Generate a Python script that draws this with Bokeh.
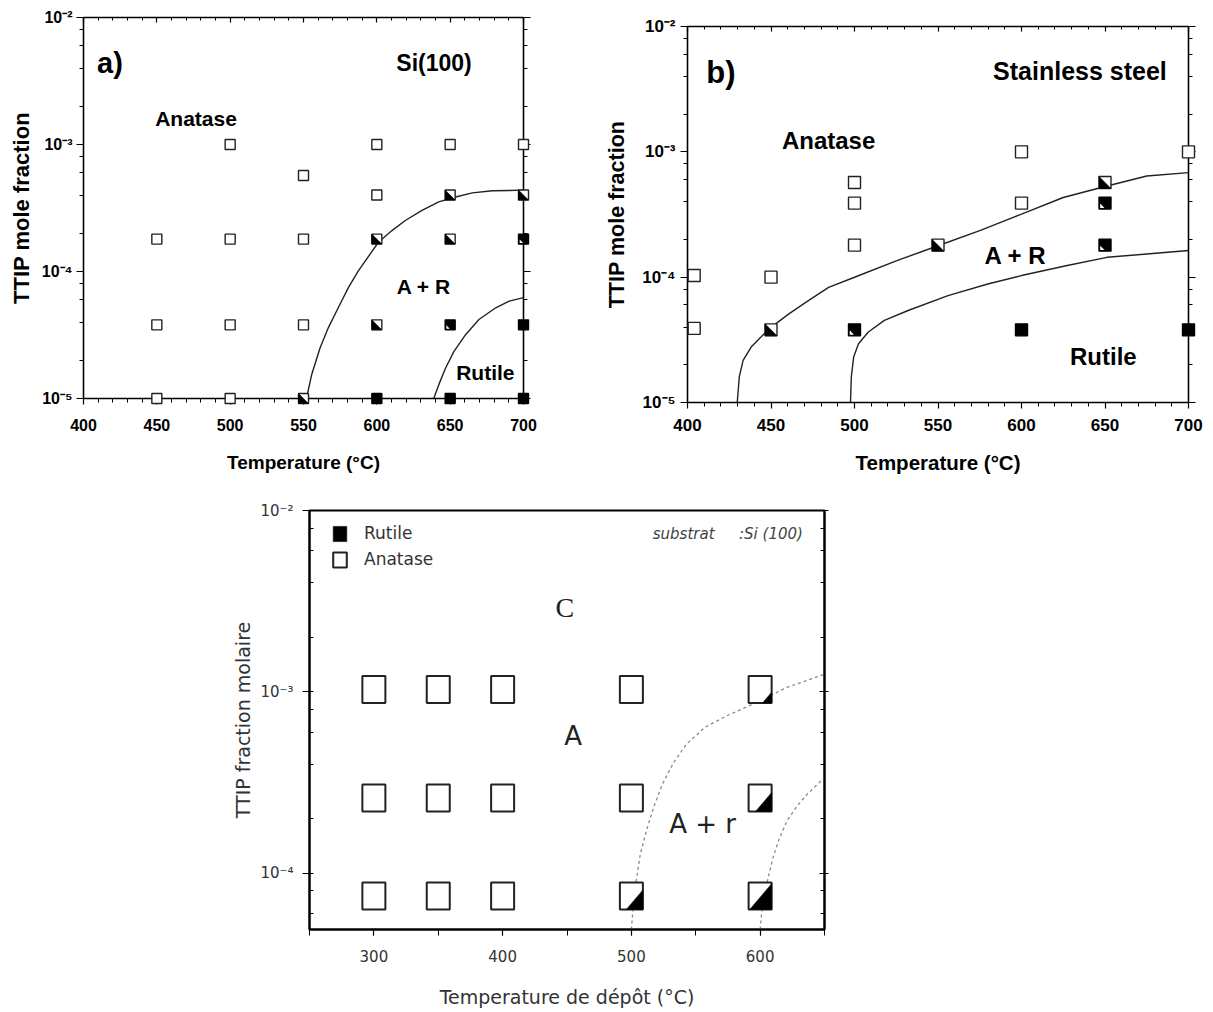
import math
from bokeh.plotting import figure
from bokeh.models import (LinearAxis, LogAxis, SingleIntervalTicker, LogTicker,
                          CustomJSTickFormatter, Label, Range1d, Spacer, Legend, LegendItem)
from bokeh.layouts import row, column
from bokeh.embed import file_html
from bokeh.resources import INLINE

# ---------------- Panel a) Si(100) ----------------
a_anatase_T = [450, 450, 450, 500, 500, 500, 500, 550, 550, 550, 600, 600, 650, 700]
a_anatase_X = [1e-5, 3.8e-5, 1.8e-4, 1e-5, 3.8e-5, 1.8e-4, 1e-3, 3.8e-5, 1.8e-4, 5.7e-4, 4e-4, 1e-3, 1e-3, 1e-3]
a_mixed_T = [550, 600, 600, 650, 650, 700]
a_mixed_X = [1e-5, 3.8e-5, 1.8e-4, 1.8e-4, 4e-4, 4e-4]
a_mostly_T = [600, 650, 700]
a_mostly_X = [1e-5, 3.8e-5, 1.8e-4]
a_rutile_T = [650, 700, 700]
a_rutile_X = [1e-5, 1e-5, 3.8e-5]
a_line1_T = [552, 555.5, 561.2, 566.9, 573.7, 580.6, 587.4, 595.4, 601.1, 610.3, 619.4, 630.8, 642.2, 653.7, 665.1, 678.8, 700]
a_line1_X = [1e-5, 1.53e-5, 2.49e-5, 3.6e-5, 5.18e-5, 7.46e-5, 1.01e-4, 1.37e-4, 1.70e-4, 2.10e-4, 2.52e-4, 3.03e-4, 3.53e-4, 3.86e-4, 4.16e-4, 4.32e-4, 4.37e-4]
a_line2_T = [638.8, 642.2, 646.8, 652.5, 660.5, 669.6, 681.1, 690.2, 700]
a_line2_X = [1e-5, 1.28e-5, 1.73e-5, 2.34e-5, 3.18e-5, 4.19e-5, 5.18e-5, 5.85e-5, 6.22e-5]

# ---------------- Panel b) Stainless steel ----------------
b_anatase_T = [404, 404, 450, 500, 500, 500, 600, 600, 700]
b_anatase_X = [1.03e-4, 3.9e-5, 1.0e-4, 5.7e-4, 3.9e-4, 1.8e-4, 1.0e-3, 3.9e-4, 1.0e-3]
b_mixed_T = [450, 550, 650]
b_mixed_X = [3.8e-5, 1.8e-4, 5.7e-4]
b_mostly_T = [500, 650, 650]
b_mostly_X = [3.8e-5, 3.9e-4, 1.8e-4]
b_rutile_T = [600, 700]
b_rutile_X = [3.8e-5, 3.8e-5]
b_line1_T = [429.8, 431.0, 433.3, 438.1, 444.0, 448.8, 460.7, 472.6, 484.5, 500, 525, 550, 575, 600, 625, 651.2, 675, 700]
b_line1_X = [1e-5, 1.6e-5, 2.17e-5, 2.77e-5, 3.33e-5, 3.87e-5, 5.1e-5, 6.52e-5, 8.3e-5, 9.98e-5, 1.35e-4, 1.78e-4, 2.35e-4, 3.18e-4, 4.32e-4, 5.34e-4, 6.42e-4, 6.83e-4]
b_line2_T = [497.6, 498.1, 499.5, 502.4, 508.3, 517.9, 532.1, 556.0, 579.8, 600, 627.4, 651.2, 675, 700]
b_line2_X = [1e-5, 1.6e-5, 2.31e-5, 2.94e-5, 3.65e-5, 4.52e-5, 5.42e-5, 7.13e-5, 8.82e-5, 1.03e-4, 1.24e-4, 1.44e-4, 1.53e-4, 1.63e-4]

# ---------------- Panel c) substrat Si(100) ----------------
c_T = [300, 350, 400, 500, 600] * 3
c_X = [1.03e-3] * 5 + [2.6e-4] * 5 + [7.5e-5] * 5
c_mixed_T = [600, 600, 500, 600]
c_mixed_X = [1.03e-3, 2.6e-4, 7.5e-5, 7.5e-5]
c_mixed_frac = [0.4, 0.7, 0.72, 0.95]
c_line1_T = [500, 501.6, 503.75, 506.9, 511.6, 517.2, 524.1, 532.8, 542.8, 556.9, 574.1, 600, 620.9, 650]
c_line1_X = [4.9e-5, 6.74e-5, 9.07e-5, 1.27e-4, 1.71e-4, 2.3e-4, 3.1e-4, 4.08e-4, 5.15e-4, 6.37e-4, 7.38e-4, 8.94e-4, 1.06e-3, 1.25e-3]
c_line2_T = [600, 601.6, 603.75, 606.9, 610, 614.7, 620.9, 628.75, 636.6, 650]
c_line2_X = [4.9e-5, 6.46e-5, 7.98e-5, 9.88e-5, 1.22e-4, 1.54e-4, 1.95e-4, 2.35e-4, 2.73e-4, 3.37e-4]

SUP_JS = """
const m = {'-':'\u207b','0':'\u2070','1':'\u00b9','2':'\u00b2','3':'\u00b3','4':'\u2074','5':'\u2075','6':'\u2076','7':'\u2077','8':'\u2078','9':'\u2079'};
const e = Math.round(Math.log10(tick));
return '10' + String(e).split('').map(c => m[c]).join('');
"""
EMPTY_JS = "return '';"


def tri(Ts, Xs, geo, hx, hy, corner, fracs):
    x0, x1, l0, l1, fw, fh = geo
    dx = hx / (fw / (x1 - x0))
    dy = hy / (fh / (l1 - l0))
    xs, ys = [], []
    for T, X, f in zip(Ts, Xs, fracs):
        L = math.log10(X)
        left, right, bot = T - dx, T + dx, L - dy
        if corner == "ll":
            px = [left, left, left + 2 * dx * f]
        else:
            px = [right, right, right - 2 * dx * f]
        py = [bot, bot + 2 * dy * f, bot]
        xs.append(px)
        ys.append([10 ** v for v in py])
    return xs, ys


def style_axis(ax, font, style, tsize, lsize, color, lw):
    ax.axis_line_width = lw
    ax.axis_line_color = "black"
    ax.major_tick_line_color = "black"
    ax.minor_tick_line_color = "black"
    ax.major_tick_line_width = 1.2
    ax.minor_tick_line_width = 1
    ax.major_label_text_font = font
    ax.major_label_text_font_style = style
    ax.major_label_text_font_size = tsize
    ax.major_label_text_color = color
    ax.axis_label_text_font = font
    ax.axis_label_text_font_style = style
    ax.axis_label_text_font_size = lsize
    ax.axis_label_text_color = color


def ticks(ax, mi, mo, ni, no, ls, als):
    ax.major_tick_in = mi
    ax.major_tick_out = mo
    ax.minor_tick_in = ni
    ax.minor_tick_out = no
    ax.major_label_standoff = ls
    ax.axis_label_standoff = als


def panel_ab(geo, size, borders, tsize, xlsize, ylsize, msize, data, labels, stands):
    x0, x1, l0, l1, fw, fh = geo
    bl, br, bt, bb = borders
    p = figure(width=size[0], height=size[1], x_range=Range1d(x0, x1),
               y_range=Range1d(10 ** l0, 10 ** l1), y_axis_type="log",
               output_backend="svg", toolbar_location=None,
               min_border_left=bl, min_border_right=br, min_border_top=bt, min_border_bottom=bb,
               outline_line_color=None, background_fill_color="white")
    p.grid.visible = False
    bx = p.below[0]
    ly = p.left[0]
    bx.ticker = SingleIntervalTicker(interval=50, num_minor_ticks=5)
    ly.ticker = LogTicker()
    ly.formatter = CustomJSTickFormatter(code=SUP_JS)
    bx.axis_label = "Temperature (\u00b0C)"
    ly.axis_label = "TTIP mole fraction"
    top = LinearAxis(ticker=SingleIntervalTicker(interval=50, num_minor_ticks=5),
                     formatter=CustomJSTickFormatter(code=EMPTY_JS))
    right = LogAxis(ticker=LogTicker(), formatter=CustomJSTickFormatter(code=EMPTY_JS))
    p.add_layout(top, "above")
    p.add_layout(right, "right")
    style_axis(bx, "Liberation Sans", "bold", tsize, xlsize, "black", 1.6)
    style_axis(ly, "Liberation Sans", "bold", tsize, ylsize, "black", 1.6)
    style_axis(top, "Liberation Sans", "bold", "0px", "0px", "black", 1.6)
    style_axis(right, "Liberation Sans", "bold", "0px", "0px", "black", 1.6)
    xls, xas, yls, yas = stands
    ticks(bx, 0, 6, 0, 4, xls, xas)
    ticks(ly, 0, 7, 0, 4, yls, yas)
    ticks(top, 5, 0, 3, 0, 0, 0)
    ticks(right, 0, 7, 0, 4, 0, 0)

    (an_T, an_X, mx_T, mx_X, mo_T, mo_X, ru_T, ru_X, l1_T, l1_X, l2_T, l2_X) = data
    p.line(l1_T, l1_X, line_color="#222222", line_width=1.4)
    p.line(l2_T, l2_X, line_color="#222222", line_width=1.4)
    h = msize / 2.0
    sq = dict(width=msize, height=msize, width_units="screen", height_units="screen", level="overlay")
    p.rect(an_T, an_X, fill_color="white", line_color="#222222", line_width=1.4, **sq)
    p.rect(mx_T, mx_X, fill_color="white", line_color="#222222", line_width=1.4, **sq)
    xs, ys = tri(mx_T, mx_X, geo, h, h, "ll", [1.0] * len(mx_T))
    p.patches(xs, ys, fill_color="black", line_color="black", line_width=0.5, level="overlay")
    p.rect(mo_T, mo_X, fill_color="black", line_color="black", line_width=1.4, **sq)
    xs, ys = tri(mo_T, mo_X, geo, h - 1.2, h - 1.2, "ll", [0.45] * len(mo_T))
    p.patches(xs, ys, fill_color="white", line_color=None, level="overlay")
    p.rect(ru_T, ru_X, fill_color="black", line_color="black", line_width=1.4, **sq)

    for (x, y, txt, size_) in labels:
        p.add_layout(Label(x=x, y=y, text=txt, text_font="Liberation Sans", text_font_style="bold",
                           text_font_size=size_, text_align="center", text_baseline="middle",
                           text_color="black"))
    return p


geo_a = (400, 700, -5, -2, 440, 381)
fa = panel_ab(geo_a, (590, 500), (83, 67, 17, 102), "16px", "19px", "22px", 10,
              (a_anatase_T, a_anatase_X, a_mixed_T, a_mixed_X, a_mostly_T, a_mostly_X,
               a_rutile_T, a_rutile_X, a_line1_T, a_line1_X, a_line2_T, a_line2_X),
              [(418, 4.4e-3, "a)", "29px"), (639, 4.4e-3, "Si(100)", "23px"),
               (476.7, 1.6e-3, "Anatase", "21px"), (632, 7.6e-5, "A + R", "21px"),
               (674, 1.6e-5, "Rutile", "21px")], (14, 18, 4, 5))

geo_b = (400, 700, -5, -2, 501, 376)
fb = panel_ab(geo_b, (623, 491), (97, 25, 17, 98), "17px", "20.5px", "21.5px", 12,
              (b_anatase_T, b_anatase_X, b_mixed_T, b_mixed_X, b_mostly_T, b_mostly_X,
               b_rutile_T, b_rutile_X, b_line1_T, b_line1_X, b_line2_T, b_line2_X),
              [(420, 4.26e-3, "b)", "31px"), (635, 4.38e-3, "Stainless steel", "25px"),
               (484.5, 1.23e-3, "Anatase", "24px"), (596.4, 1.49e-4, "A + R", "24px"),
               (649, 2.33e-5, "Rutile", "24px")], (10, 17, 5, 10))

# ---------------- Panel c figure ----------------
geo_c = (250, 650, -4.31, -2, 515, 419)
fc = figure(width=644, height=511, x_range=Range1d(250, 650),
            y_range=Range1d(10 ** -4.31, 1e-2), y_axis_type="log",
            output_backend="svg", toolbar_location=None,
            min_border_left=109, min_border_right=20, min_border_top=10, min_border_bottom=82,
            outline_line_color="black", outline_line_width=2)
fc.grid.visible = False
cbx = fc.below[0]
cly = fc.left[0]
cbx.ticker = SingleIntervalTicker(interval=100, num_minor_ticks=2)
cly.ticker = LogTicker()
cly.formatter = CustomJSTickFormatter(code=SUP_JS)
cbx.axis_label = "Temperature de d\u00e9p\u00f4t (\u00b0C)"
cly.axis_label = "TTIP fraction molaire"
c_right = LogAxis(ticker=LogTicker(), formatter=CustomJSTickFormatter(code=EMPTY_JS))
fc.add_layout(c_right, "right")
for ax in (cbx, cly):
    style_axis(ax, "DejaVu Sans", "normal", "15px", "19px", "#333333", 2)
style_axis(c_right, "DejaVu Sans", "normal", "0px", "0px", "#333333", 2)
ticks(cbx, 0, 6, 0, 6, 14, 21)
ticks(cly, 0, 7, 4, 0, 9, 3)
ticks(c_right, 5, 4, 4, 0, 0, 0)

fc.line(c_line1_T, c_line1_X, line_color="#8a8a8a", line_width=1.3, line_dash="3 3")
fc.line(c_line2_T, c_line2_X, line_color="#8a8a8a", line_width=1.3, line_dash="3 3")
r_an = fc.rect(c_T, c_X, width=23, height=27, width_units="screen", height_units="screen",
               fill_color="white", line_color="#222222", line_width=2, level="overlay")
cxs, cys = tri(c_mixed_T, c_mixed_X, geo_c, 11.5, 13.5, "lr", c_mixed_frac)
r_ru = fc.patches(cxs, cys, fill_color="black", line_color="black", line_width=0.5, level="overlay")

leg = Legend(items=[LegendItem(label="Rutile", renderers=[r_ru]),
                    LegendItem(label="Anatase", renderers=[r_an])],
             location=(22, 360), orientation="vertical", padding=0, margin=0, spacing=6,
             glyph_width=17, glyph_height=19, label_height=19, label_standoff=16,
             label_text_font="DejaVu Sans", label_text_font_size="17px", label_text_color="#333333",
             border_line_color=None, background_fill_alpha=0)
fc.add_layout(leg)

for (x, y, txt, font, size, st, col) in [
        (448.4, 2.92e-3, "C", "Liberation Serif", "28px", "normal", "#222222"),
        (454.7, 5.7e-4, "A", "DejaVu Sans", "26px", "normal", "#222222"),
        (555.3, 1.87e-4, "A + r", "DejaVu Sans", "26px", "normal", "#222222"),
        (540.6, 7.4e-3, "substrat", "DejaVu Sans", "15px", "italic", "#444444"),
        (608.4, 7.4e-3, ":Si (100)", "DejaVu Sans", "15px", "italic", "#444444")]:
    fc.add_layout(Label(x=x, y=y, text=txt, text_font=font, text_font_size=size,
                        text_font_style=st, text_color=col, text_align="center",
                        text_baseline="middle"))

layout = column(row(fa, column(Spacer(width=623, height=9), fb)),
                row(Spacer(width=200, height=511), fc))
open("out.html", "w").write(file_html(layout, INLINE))
